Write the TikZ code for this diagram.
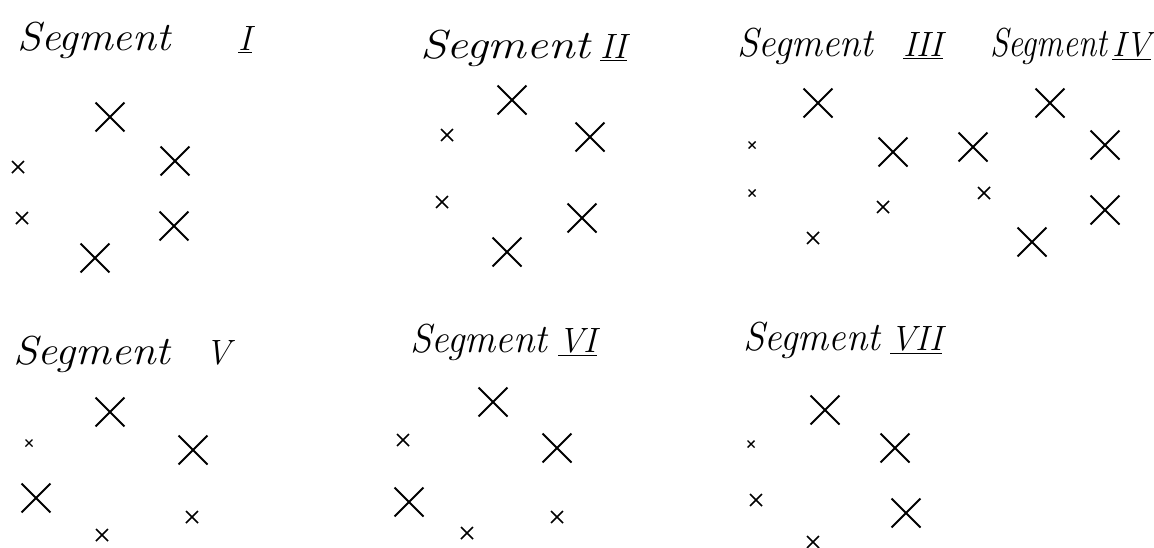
\documentclass[tikz,border=0pt]{standalone}
\usepackage{tikz}
\usepackage{graphicx}
\usetikzlibrary{shapes.misc}
\newcommand{\segtxt}[1]{\resizebox{#1}{\height}{Segment}}

\begin{document}
\begin{tikzpicture}[
  x=0.02cm,y=-0.02cm,
  lbl/.style={anchor=base west,inner sep=0pt,font=\fontsize{23}{26}\selectfont\itshape},
  num/.style={anchor=base west,inner sep=0pt,font=\fontsize{20}{24}\selectfont\itshape},
  bx/.style={cross out,draw,line width=1.1pt,inner sep=0pt,outer sep=0pt,minimum size=0.58cm},
  sx/.style={cross out,draw,line width=0.9pt,inner sep=0pt,outer sep=0pt,minimum size=0.24cm},
  tx/.style={cross out,draw,line width=0.8pt,inner sep=0pt,outer sep=0pt,minimum size=0.14cm}
]
  \useasboundingbox (0,0) rectangle (1154,548);

  % Segment I
  \node[lbl] (t1) at (17,50) {\segtxt{3.06cm}};
  \node[num] (n1) at (238,50) {\underline{I}};
  \node[bx] (a1) at (110,117) {};
  \node[sx] (a2) at (18,167) {};
  \node[bx] (a3) at (175,161) {};
  \node[sx] (a4) at (22,218) {};
  \node[bx] (a5) at (174,226) {};
  \node[bx] (a6) at (95,258) {};

  % Segment II
  \node[lbl] (t2) at (420,58) {\segtxt{3.4cm}};
  \node[num] (n2) at (600,58) {\underline{II}};
  \node[bx] (b1) at (512,100) {};
  \node[sx] (b2) at (447,135) {};
  \node[bx] (b3) at (590,137) {};
  \node[sx] (b4) at (442,202) {};
  \node[bx] (b5) at (582,218) {};
  \node[bx] (b6) at (507,252) {};

  % Segment III
  \node[lbl] (t3) at (737,56) {\segtxt{2.72cm}};
  \node[num] (n3) at (903,56) {\underline{III}};
  \node[bx] (c1) at (818,103) {};
  \node[tx] (c2) at (752,145) {};
  \node[bx] (c3) at (893,152) {};
  \node[tx] (c4) at (752,193) {};
  \node[sx] (c5) at (883,207) {};
  \node[sx] (c6) at (813,238) {};

  % Segment IV
  \node[lbl] (t4) at (990,56) {\segtxt{2.34cm}};
  \node[num] (n4) at (1112,56) {\underline{IV}};
  \node[bx] (d1) at (1050,103) {};
  \node[bx] (d2) at (973,147) {};
  \node[bx] (d3) at (1105,145) {};
  \node[sx] (d4) at (984,193) {};
  \node[bx] (d5) at (1105,210) {};
  \node[bx] (d6) at (1032,242) {};

  % Segment V
  \node[lbl] (t5) at (13,364) {\segtxt{3.14cm}};
  \node[num] (n5) at (205,364) {V};
  \node[bx] (e1) at (110,412) {};
  \node[tx] (e2) at (29,443) {};
  \node[bx] (e3) at (193,450) {};
  \node[bx] (e4) at (36,498) {};
  \node[sx] (e5) at (192,517) {};
  \node[sx] (e6) at (102,535) {};

  % Segment VI
  \node[lbl] (t6) at (410,352) {\segtxt{2.74cm}};
  \node[num] (n6) at (558,352) {\underline{VI}};
  \node[bx] (f1) at (493,402) {};
  \node[sx] (f2) at (403,440) {};
  \node[bx] (f3) at (557,448) {};
  \node[bx] (f4) at (409,502) {};
  \node[sx] (f5) at (557,517) {};
  \node[sx] (f6) at (467,533) {};

  % Segment VII
  \node[lbl] (t7) at (743,350) {\segtxt{2.74cm}};
  \node[num] (n7) at (890,350) {\underline{VII}};
  \node[bx] (g1) at (825,410) {};
  \node[tx] (g2) at (751,444) {};
  \node[bx] (g3) at (895,448) {};
  \node[sx] (g4) at (756,500) {};
  \node[bx] (g5) at (906,513) {};
  \node[sx] (g6) at (813,542) {};
\end{tikzpicture}
\end{document}
